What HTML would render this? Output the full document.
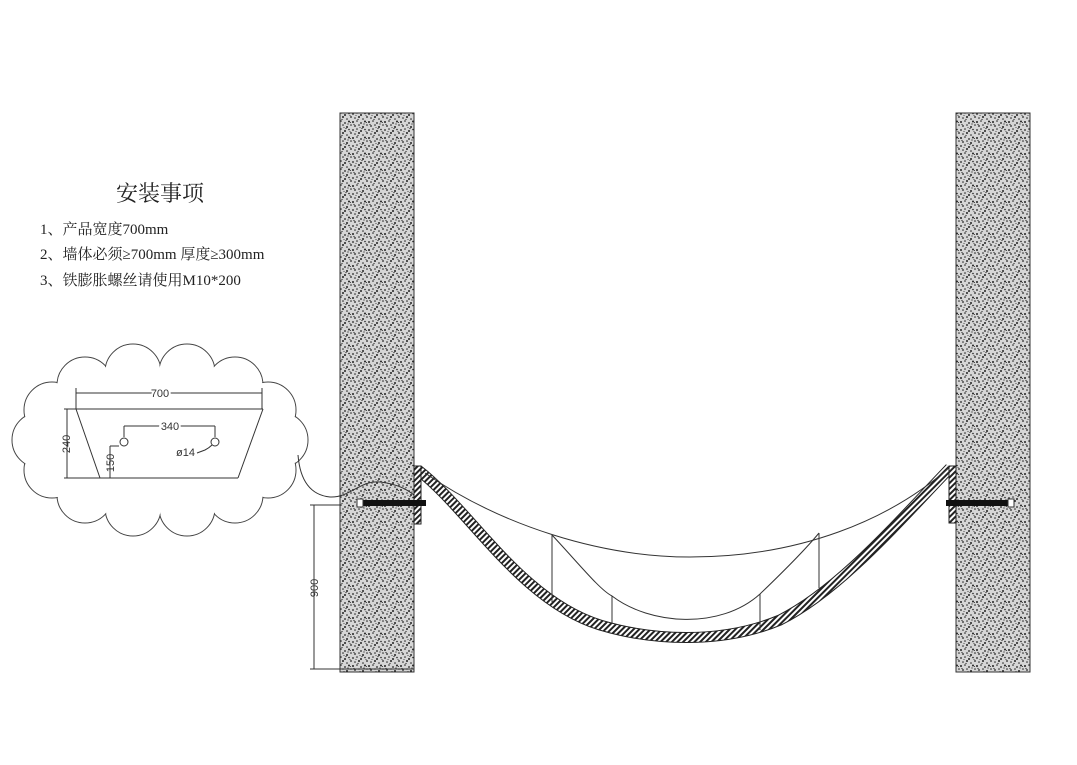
<!DOCTYPE html>
<html><head><meta charset="utf-8"><style>
body{margin:0;background:#fff}
svg{display:block}
.t{font-family:"Liberation Serif","Noto Serif CJK SC",serif;fill:#222}
.d{font-family:"Liberation Sans",sans-serif;fill:#333;font-size:11px}
</style></head><body>
<svg width="1077" height="765" viewBox="0 0 1077 765" xmlns="http://www.w3.org/2000/svg">
<defs>
<pattern id="st" width="16" height="16" patternUnits="userSpaceOnUse">
<rect width="16" height="16" fill="#d6d6d6"/>
<g fill="#222">
<circle cx="1" cy="2" r=".9"/><circle cx="5" cy="1" r=".8"/><circle cx="9" cy="3" r="1"/><circle cx="13" cy="1.5" r=".8"/>
<circle cx="3" cy="6" r=".8"/><circle cx="7" cy="5" r="1"/><circle cx="11" cy="7" r=".8"/><circle cx="15" cy="5" r=".9"/>
<circle cx="1" cy="10" r="1"/><circle cx="5" cy="9" r=".8"/><circle cx="9" cy="11" r=".9"/><circle cx="13" cy="9.5" r="1"/>
<circle cx="3" cy="14" r=".9"/><circle cx="7" cy="13" r=".8"/><circle cx="11" cy="15" r="1"/><circle cx="15" cy="13" r=".8"/>
<circle cx="6" cy="7.5" r=".6"/><circle cx="12" cy="12" r=".6"/><circle cx="2" cy="12.5" r=".6"/><circle cx="10" cy="0.5" r=".6"/>
<circle cx="14" cy="3.5" r=".5"/><circle cx="4" cy="3.5" r=".5"/><circle cx="8" cy="15.5" r=".5"/><circle cx="14.5" cy="10.5" r=".5"/>
</g></pattern>
<pattern id="h" width="4" height="4" patternUnits="userSpaceOnUse" patternTransform="rotate(45)">
<rect width="4" height="4" fill="#fff"/><rect width="2" height="4" fill="#222"/></pattern>
</defs>

<rect x="340" y="113" width="74" height="559" fill="url(#st)" stroke="#333" stroke-width="1"/>
<rect x="956" y="113" width="74" height="559" fill="url(#st)" stroke="#333" stroke-width="1"/>

<text class="t" x="116" y="201" font-size="22">安装事项</text>
<text class="t" x="40" y="234" font-size="15">1、产品宽度700mm</text>
<text class="t" x="40" y="259" font-size="15">2、墙体必须≥700mm 厚度≥300mm</text>
<text class="t" x="40" y="285" font-size="15">3、铁膨胀螺丝请使用M10*200</text>

<g stroke="#444" stroke-width="1" fill="#fff">
<circle cx="280" cy="440" r="28"/><circle cx="268" cy="470" r="28"/><circle cx="235" cy="495" r="28"/><circle cx="187" cy="508" r="28"/><circle cx="133" cy="508" r="28"/><circle cx="85" cy="495" r="28"/><circle cx="52" cy="470" r="28"/><circle cx="40" cy="440" r="28"/><circle cx="52" cy="410" r="28"/><circle cx="85" cy="385" r="28"/><circle cx="133" cy="372" r="28"/><circle cx="187" cy="372" r="28"/><circle cx="235" cy="385" r="28"/><circle cx="268" cy="410" r="28"/>
</g>
<g fill="#fff">
<circle cx="280" cy="440" r="27.3"/><circle cx="268" cy="470" r="27.3"/><circle cx="235" cy="495" r="27.3"/><circle cx="187" cy="508" r="27.3"/><circle cx="133" cy="508" r="27.3"/><circle cx="85" cy="495" r="27.3"/><circle cx="52" cy="470" r="27.3"/><circle cx="40" cy="440" r="27.3"/><circle cx="52" cy="410" r="27.3"/><circle cx="85" cy="385" r="27.3"/><circle cx="133" cy="372" r="27.3"/><circle cx="187" cy="372" r="27.3"/><circle cx="235" cy="385" r="27.3"/><circle cx="268" cy="410" r="27.3"/>
<ellipse cx="160" cy="440" rx="122" ry="72"/>
</g>
<g stroke="#333" stroke-width="1" fill="none">
<line x1="64" y1="409" x2="263" y2="409"/>
<line x1="76" y1="409" x2="100" y2="478"/>
<line x1="263" y1="409" x2="238" y2="478"/>
<line x1="64" y1="478" x2="238" y2="478"/>
<line x1="76" y1="393" x2="262" y2="393"/><line x1="76" y1="388" x2="76" y2="409"/><line x1="262" y1="388" x2="262" y2="409"/>
<line x1="67" y1="409" x2="67" y2="478"/>
<line x1="124" y1="426" x2="215" y2="426"/><line x1="124" y1="426" x2="124" y2="437"/><line x1="215" y1="426" x2="215" y2="437"/>
<circle cx="124" cy="442" r="4"/><circle cx="215" cy="442" r="4"/>
<line x1="110" y1="446" x2="110" y2="478"/><line x1="110" y1="446" x2="119" y2="446"/>
<path d="M197,453 L205,450 Q209,448 212,445"/>
<path d="M298,455 C300,480 310,495 330,497 C350,498 360,480 380,482 C400,484 410,492 414,495"/>
</g>
<text class="d" x="160" y="397" text-anchor="middle" style="paint-order:stroke" stroke="#fff" stroke-width="4">700</text>
<text class="d" x="170" y="430" text-anchor="middle" style="paint-order:stroke" stroke="#fff" stroke-width="4">340</text>
<text class="d" x="176" y="456">ø14</text>
<text class="d" transform="translate(70,444) rotate(-90)" text-anchor="middle">240</text>
<text class="d" transform="translate(114,463) rotate(-90)" text-anchor="middle">150</text>

<g stroke="#333" stroke-width="1">
<line x1="314" y1="505" x2="314" y2="669"/>
<line x1="310" y1="505" x2="340" y2="505"/>
<line x1="310" y1="669" x2="414" y2="669"/>
</g>
<text class="d" transform="translate(318,588) rotate(-90)" text-anchor="middle">900</text>

<path d="M418,470 C470,510 520,600 600,625 C650,640 720,645 780,620 C840,590 900,520 950,468" fill="none" stroke="#222" stroke-width="11"/>
<path d="M418,470 C470,510 520,600 600,625 C650,640 720,645 780,620 C840,590 900,520 950,468" fill="none" stroke="url(#h)" stroke-width="9"/>
<g stroke="#333" stroke-width="1" fill="none">
<path d="M425,473 C500,525 600,557 690,557 C800,557 890,520 950,467"/>
<path d="M552,535 C580,565 600,590 612,596 C650,625 720,630 760,594 C785,570 805,550 819,533"/>
<line x1="552" y1="535" x2="552" y2="602"/>
<line x1="612" y1="596" x2="612" y2="624"/>
<line x1="760" y1="594" x2="760" y2="630"/>
<line x1="819" y1="533" x2="819" y2="588"/>
</g>

<rect x="414" y="466" width="7" height="58" fill="url(#h)" stroke="#222" stroke-width="1"/>
<rect x="949" y="466" width="7" height="57" fill="url(#h)" stroke="#222" stroke-width="1"/>
<rect x="362" y="500" width="64" height="6" fill="#111"/>
<rect x="357" y="499" width="6" height="8" fill="#fff" stroke="#333"/>
<rect x="946" y="500" width="64" height="6" fill="#111"/>
<rect x="1008" y="499" width="6" height="8" fill="#fff" stroke="#333"/>
</svg>
</body></html>
